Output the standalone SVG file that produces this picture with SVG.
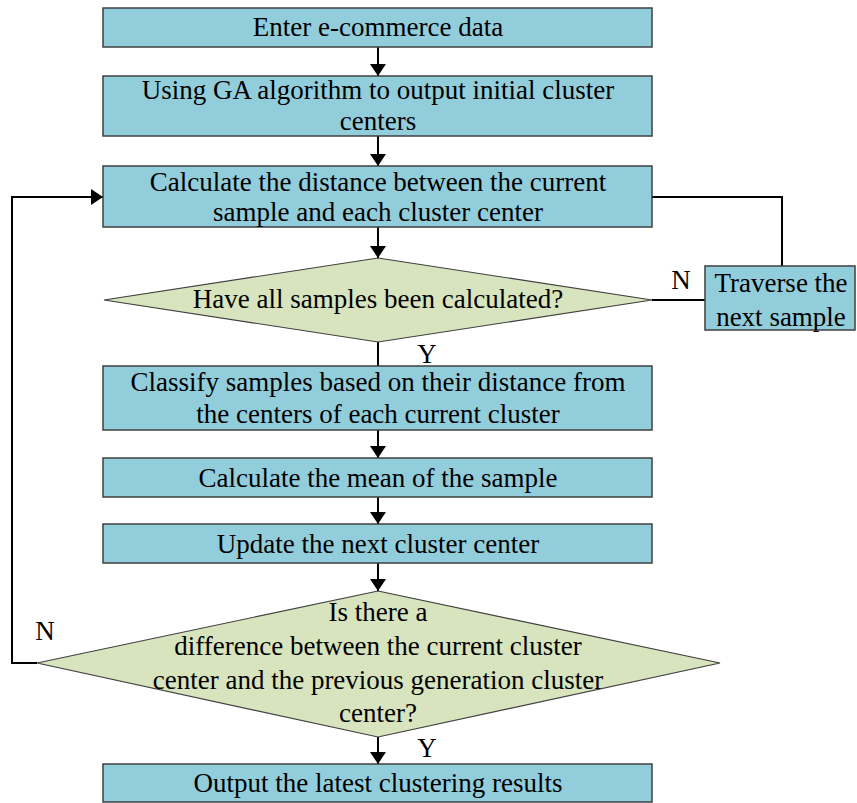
<svg xmlns="http://www.w3.org/2000/svg" width="857" height="803" viewBox="0 0 857 803">
  <style>
    .box { fill: #92CDDC; stroke: #3F3F3F; stroke-width: 1.5; }
    .dia { fill: #D7E4BD; stroke: #3F3F3F; stroke-width: 1.2; }
    .lbl { font-family: "Liberation Serif", "Times New Roman", serif; font-size: 27px; fill: #000; text-anchor: middle; }
    .wire { fill: none; stroke: #000; stroke-width: 2; }
  </style>
  <defs>
    <marker id="arrow" viewBox="0 0 12 16" refX="12" refY="8" markerWidth="12" markerHeight="16" markerUnits="userSpaceOnUse" orient="auto">
      <path d="M0,0 L12,8 L0,16 Z" fill="#000"/>
    </marker>
  </defs>
  <rect width="857" height="803" fill="#fff"/>

  <g id="connectors">
    <line class="wire" x1="378" y1="47" x2="378" y2="76" marker-end="url(#arrow)"/>
    <line class="wire" x1="378" y1="136" x2="378" y2="166" marker-end="url(#arrow)"/>
    <line class="wire" x1="378" y1="227" x2="378" y2="258" marker-end="url(#arrow)"/>
    <line class="wire" x1="378" y1="342" x2="378" y2="366"/>
    <line class="wire" x1="378" y1="430" x2="378" y2="458" marker-end="url(#arrow)"/>
    <line class="wire" x1="378" y1="497" x2="378" y2="524" marker-end="url(#arrow)"/>
    <line class="wire" x1="378" y1="563" x2="378" y2="591" marker-end="url(#arrow)"/>
    <line class="wire" x1="378" y1="737" x2="378" y2="764" marker-end="url(#arrow)"/>
    <line class="wire" x1="652" y1="300" x2="705" y2="300"/>
    <polyline class="wire" points="652,197 782,197 782,266"/>
    <polyline class="wire" points="37,663 12,663 12,197 103,197" marker-end="url(#arrow)"/>
    <text class="lbl" x="681" y="289">N</text>
    <text class="lbl" x="427" y="363">Y</text>
    <text class="lbl" x="45" y="640">N</text>
    <text class="lbl" x="427" y="757">Y</text>
  </g>

  <g id="enter-data">
    <rect class="box" x="103" y="8" width="549" height="39"/>
    <text class="lbl" x="378" y="36">Enter e-commerce data</text>
  </g>
  <g id="ga-init">
    <rect class="box" x="103" y="76" width="549" height="60"/>
    <text class="lbl" x="378" y="99">Using GA algorithm to output initial cluster</text>
    <text class="lbl" x="378" y="130">centers</text>
  </g>
  <g id="calc-distance">
    <rect class="box" x="103" y="166" width="549" height="61"/>
    <text class="lbl" x="378" y="191">Calculate the distance between the current</text>
    <text class="lbl" x="378" y="221">sample and each cluster center</text>
  </g>
  <g id="all-calculated">
    <polygon class="dia" points="378,258 652,300 378,342 104,300"/>
    <text class="lbl" x="378" y="308">Have all samples been calculated?</text>
  </g>
  <g id="traverse-next">
    <rect class="box" x="705" y="266" width="150" height="64"/>
    <text class="lbl" x="781" y="292">Traverse the</text>
    <text class="lbl" x="781" y="326">next sample</text>
  </g>
  <g id="classify">
    <rect class="box" x="103" y="366" width="549" height="64"/>
    <text class="lbl" x="378" y="391">Classify samples based on their distance from</text>
    <text class="lbl" x="378" y="423">the centers of each current cluster</text>
  </g>
  <g id="calc-mean">
    <rect class="box" x="103" y="458" width="549" height="39"/>
    <text class="lbl" x="378" y="487">Calculate the mean of the sample</text>
  </g>
  <g id="update-center">
    <rect class="box" x="103" y="524" width="549" height="39"/>
    <text class="lbl" x="378" y="553">Update the next cluster center</text>
  </g>
  <g id="center-changed">
    <polygon class="dia" points="378,591 720,663 378,737 37,663"/>
    <text class="lbl" x="378" y="621">Is there a</text>
    <text class="lbl" x="378" y="655">difference between the current cluster</text>
    <text class="lbl" x="378" y="689">center and the previous generation cluster</text>
    <text class="lbl" x="378" y="722">center?</text>
  </g>
  <g id="output-results">
    <rect class="box" x="103" y="764" width="549" height="38"/>
    <text class="lbl" x="378" y="792">Output the latest clustering results</text>
  </g>
</svg>
